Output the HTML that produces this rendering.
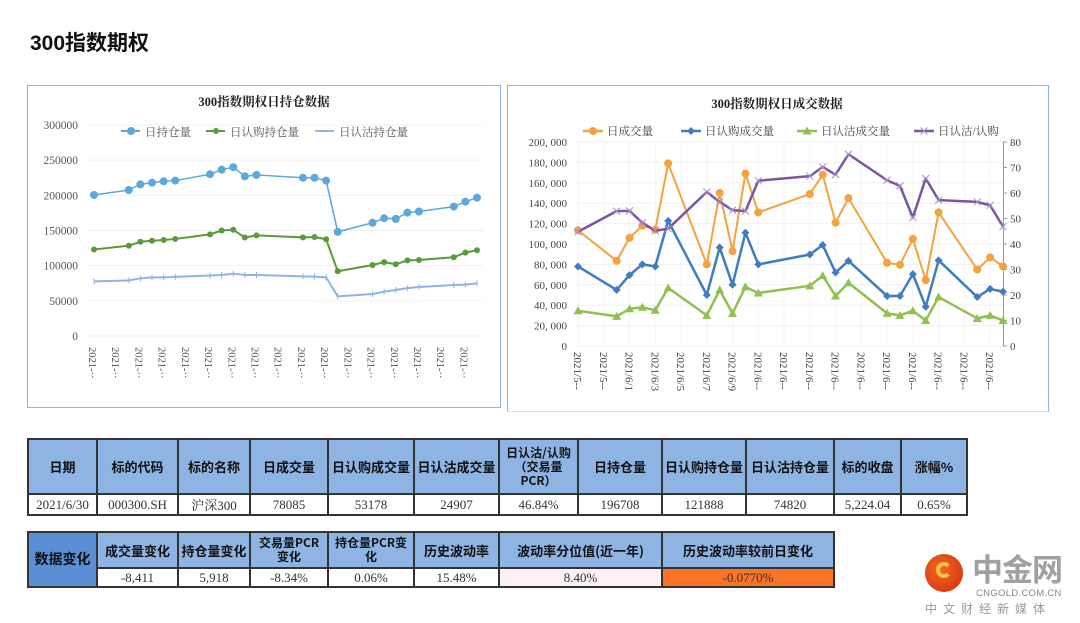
<!DOCTYPE html>
<html><head><meta charset="utf-8">
<style>
body{margin:0;width:1080px;height:623px;background:#fff;position:relative;overflow:hidden;font-family:"Liberation Sans","Noto Sans CJK SC",sans-serif}
.abs{position:absolute}
table{border-collapse:collapse;position:absolute;table-layout:fixed}
td{border:2px solid #333;text-align:center;padding:0;font-size:13px;color:#111}
td.h{background:#8db4e2;font-family:"Noto Sans CJK SC",sans-serif;font-weight:bold;font-size:13px;line-height:15px}
td.v{font-family:"Liberation Serif","Noto Serif CJK SC",serif;font-size:13px;color:#333}
svg text{font-family:"Liberation Serif","Noto Serif CJK SC",serif}
</style></head><body>
<div class="abs" style="left:30px;top:27px;font-size:21px;font-weight:bold;color:#111">300指数期权</div>

<svg class="abs" style="left:0;top:0" width="1080" height="430">
<rect x="27.5" y="85.5" width="473" height="322" fill="#fff" stroke="#8db4e2"/>
<rect x="507.5" y="85.5" width="541" height="326" fill="#fff" stroke="#8db4e2"/>
<line x1="507.5" y1="411.5" x2="1048.5" y2="411.5" stroke="#f5d6ee"/>
<text x="264" y="106" text-anchor="middle" font-size="12.5" font-weight="bold" fill="#222">300指数期权日持仓数据</text>
<text x="777" y="108" text-anchor="middle" font-size="12.5" font-weight="bold" fill="#222">300指数期权日成交数据</text>
<g id="L"></g><g id="R"></g>
</svg>

<table style="left:27px;top:438px;width:939px">
<colgroup><col style="width:69px"><col style="width:81px"><col style="width:72px"><col style="width:78px"><col style="width:86px"><col style="width:85px"><col style="width:79px"><col style="width:84px"><col style="width:84px"><col style="width:88px"><col style="width:67px"><col style="width:66px"></colgroup>
<tr style="height:55px">
<td class="h">日期</td><td class="h">标的代码</td><td class="h">标的名称</td><td class="h">日成交量</td><td class="h">日认购成交量</td><td class="h">日认沽成交量</td><td class="h" style="font-size:12px;line-height:14px">日认沽/认购<br>（交易量<br>PCR）</td><td class="h">日持仓量</td><td class="h">日认购持仓量</td><td class="h">日认沽持仓量</td><td class="h">标的收盘</td><td class="h">涨幅%</td></tr>
<tr style="height:19px">
<td class="v">2021/6/30</td><td class="v">000300.SH</td><td class="v">沪深300</td><td class="v">78085</td><td class="v">53178</td><td class="v">24907</td><td class="v">46.84%</td><td class="v">196708</td><td class="v">121888</td><td class="v">74820</td><td class="v">5,224.04</td><td class="v">0.65%</td></tr>
</table>

<table style="left:27px;top:531px;width:806px">
<colgroup><col style="width:69px"><col style="width:81px"><col style="width:72px"><col style="width:78px"><col style="width:86px"><col style="width:85px"><col style="width:163px"><col style="width:172px"></colgroup>
<tr style="height:36px">
<td class="h" rowspan="2" style="background:#5a8fd6;font-size:14px">数据变化</td>
<td class="h">成交量变化</td><td class="h">持仓量变化</td><td class="h" style="font-size:12px;line-height:14px">交易量PCR<br>变化</td><td class="h" style="font-size:12px;line-height:14px">持仓量PCR变<br>化</td><td class="h">历史波动率</td><td class="h">波动率分位值(近一年)</td><td class="h">历史波动率较前日变化</td></tr>
<tr style="height:19px">
<td class="v">-8,411</td><td class="v">5,918</td><td class="v">-8.34%</td><td class="v">0.06%</td><td class="v">15.48%</td><td class="v" style="background:#fcf0f2">8.40%</td><td class="v" style="background:#fb7327">-0.0770%</td></tr>
</table>

<div class="abs" style="left:922px;top:550px;width:150px;height:70px">
<div style="position:absolute;left:3px;top:4px;width:38px;height:38px;border-radius:50%;background:radial-gradient(circle at 40% 40%,#f06a1e,#d22a12)"></div>
<div style="position:absolute;left:14px;top:12px;width:16px;height:16px;border-radius:50%;border:4px solid #f8c24a;border-right-color:transparent;box-sizing:border-box"></div>
<div style="position:absolute;left:50px;top:0px;font-size:31px;font-weight:bold;color:#a0a0a0;font-family:'Noto Sans CJK SC',sans-serif;line-height:36px;letter-spacing:-1px">中金网</div>
<div style="position:absolute;left:54px;top:38px;font-size:9.5px;color:#888;letter-spacing:0.3px">CNGOLD.COM.CN</div>
<div style="position:absolute;left:3px;top:50px;font-size:12px;color:#999;letter-spacing:6px;font-family:'Noto Sans CJK SC',sans-serif">中文财经新媒体</div>
</div>

<script>
// ---- data ----
const dates=["2021-05-28","2021-05-31","2021-06-01","2021-06-02","2021-06-03","2021-06-04","2021-06-07","2021-06-08","2021-06-09","2021-06-10","2021-06-11","2021-06-15","2021-06-16","2021-06-17","2021-06-18","2021-06-21","2021-06-22","2021-06-23","2021-06-24","2021-06-25","2021-06-28","2021-06-29","2021-06-30"];
const oiTotal=[200500,207600,215600,218000,220000,221000,230000,236500,240000,227000,229000,225000,225000,221000,148000,161000,167500,166500,175500,177000,184000,191000,196708];
const oiCall=[123000,128400,134000,135500,136500,138000,144500,150000,151000,140000,143000,140300,140800,137500,92000,101000,105000,102000,107600,108000,112000,118600,121888];
const oiPut=[77700,79000,82000,83400,83400,84000,86000,86700,88600,86700,86700,84800,84400,83400,56400,59700,63000,65400,68000,69700,72500,73000,74820];
const volTotal=[113500,83500,106000,118000,114000,179000,80000,150000,93000,169000,131000,149000,168000,121000,145000,81600,79600,105000,64600,131000,75000,86800,78085];
const volCall=[78000,55000,69500,80000,78000,122700,50000,96600,60000,111000,80000,89700,99000,72000,83500,49000,49000,70500,38500,84000,48000,56000,53178];
const volPut=[34600,29000,36500,38000,35000,57000,30000,55000,32000,58000,52000,59000,69000,49000,62000,32000,30000,34600,25000,48000,27000,30000,24907];
const pcr=[44.8,52.9,53,48.3,45.2,46,60.4,56.5,53.3,52.9,64.8,66.6,70.2,67.2,75.2,65,62.8,50.4,65.7,57.2,56.5,55.2,46.84];
const leftTicks=[0,50000,100000,150000,200000,250000,300000];
const rightTicksL=[0,20000,40000,60000,80000,100000,120000,140000,160000,180000,200000];
const rightTicksR=[0,10,20,30,40,50,60,70,80];
const rightXLabels=["2021/5--","2021/5--","2021/6/1","2021/6/3","2021/6/5","2021/6/7","2021/6/9","2021/6--","2021/6--","2021/6--","2021/6--","2021/6--","2021/6--","2021/6--","2021/6--","2021/6--","2021/6--"];
// ---- helpers ----
const NS="http://www.w3.org/2000/svg";
function mk(p,tag,at){const e=document.createElementNS(NS,tag);for(const k in at)e.setAttribute(k,at[k]);p.appendChild(e);return e;}
const day0=Date.parse("2021-05-28");
const dayIdx=d=>(Date.parse(d)-day0)/86400000;
function xs(x0,x1){return d=>x0+(x1-x0)*dayIdx(d)/33;}
function ys(y0,y1,max){return v=>y0-(y0-y1)*v/max;}
function line(g,X,Y,vals,color,w,name){
  const p=mk(g,"polyline",{points:vals.map((v,i)=>X(dates[i])+","+Y(v)).join(" "),fill:"none",stroke:color,"stroke-width":w,"stroke-linejoin":"round"});
  
  
}
function marker(g,type,x,y,c){
  if(type==="circle")mk(g,"circle",{cx:x,cy:y,r:4,fill:c});
  else if(type==="dot")mk(g,"circle",{cx:x,cy:y,r:3,fill:c});
  else if(type==="diamond")mk(g,"path",{d:`M${x} ${y-4}L${x+4} ${y}L${x} ${y+4}L${x-4} ${y}Z`,fill:c});
  else if(type==="tri")mk(g,"path",{d:`M${x} ${y-4.5}L${x+4.5} ${y+3.5}L${x-4.5} ${y+3.5}Z`,fill:c});
  else if(type==="x")mk(g,"path",{d:`M${x-3.5} ${y-3.5}L${x+3.5} ${y+3.5}M${x+3.5} ${y-3.5}L${x-3.5} ${y+3.5}`,stroke:"#a88fc8","stroke-width":1});
  else if(type==="plus")mk(g,"path",{d:`M${x} ${y-3}V${y+3}`,stroke:c,"stroke-width":1});
}
// ---- left chart ----
(function(){
  const g=document.getElementById("L");
  const X=xs(94,477),Y=ys(336,125,300000);
  leftTicks.forEach(t=>{
    mk(g,"line",{x1:88,x2:483,y1:Y(t),y2:Y(t),stroke:"#f0f0f0"});
    const tx=mk(g,"text",{x:78,y:Y(t)+4,"text-anchor":"end","font-size":11.5,fill:"#555"});tx.textContent=t;
    
  });
  for(let i=0;i<17;i++){
    const x=94+i*(477-94)/33*2-2;
    const tx=mk(g,"text",{x:0,y:0,"font-size":10.5,fill:"#555",transform:`translate(${x-3},347) rotate(90)`});tx.textContent="2021-··";
    
  }
  line(g,X,Y,oiPut,"#8db4e2",2,"series-put-oi");
  oiPut.forEach((v,i)=>marker(g,"plus",X(dates[i]),Y(v),"#8db4e2"));
  line(g,X,Y,oiCall,"#5a9a3a",2,"series-call-oi");
  oiCall.forEach((v,i)=>marker(g,"dot",X(dates[i]),Y(v),"#5a9a3a"));
  line(g,X,Y,oiTotal,"#5aa8dc",1.5,"series-total-oi");
  oiTotal.forEach((v,i)=>marker(g,"circle",X(dates[i]),Y(v),"#5aa8dc"));
  // legend
  const lg=mk(g,"g",{});
  [[121,"#5aa8dc","circle","日持仓量"],[206,"#5a9a3a","dot","日认购持仓量"],[315,"#8db4e2","none","日认沽持仓量"]].forEach(a=>{
    mk(lg,"line",{x1:a[0],x2:a[0]+19,y1:131,y2:131,stroke:a[1],"stroke-width":2});
    if(a[2]!=="none")marker(lg,a[2],a[0]+10,131,a[1]);
    const t=mk(lg,"text",{x:a[0]+24,y:136,"font-size":11.5,fill:"#555"});t.textContent=a[3];
  });
})();
// ---- right chart ----
(function(){
  const g=document.getElementById("R");
  const X=xs(578,1003),Y=ys(346,142,200000),Y2=ys(346,142,80);
  rightTicksL.forEach(t=>{
    mk(g,"line",{x1:575,x2:1003,y1:Y(t),y2:Y(t),stroke:"#f0f0f0"});
    const tx=mk(g,"text",{x:567,y:Y(t)+4,"text-anchor":"end","font-size":11,fill:"#444"});tx.textContent=t.toLocaleString("en-US").replace(/,/g,", ");
    
  });
  rightTicksR.forEach(t=>{
    const tx=mk(g,"text",{x:1010,y:Y2(t)+4,"font-size":11,fill:"#444"});tx.textContent=t;
    
    mk(g,"line",{x1:1003,x2:1007,y1:Y2(t),y2:Y2(t),stroke:"#999"});
  });
  mk(g,"line",{x1:1003.5,x2:1003.5,y1:142,y2:346,stroke:"#999"});
  rightXLabels.forEach((l,i)=>{
    const x=578+i*(1003-578)/33*2;
    mk(g,"line",{x1:x,x2:x,y1:142,y2:346,stroke:"#f3f3f3"});
    const tx=mk(g,"text",{x:0,y:0,"font-size":11,fill:"#444",transform:`translate(${x-4},352) rotate(90)`});tx.textContent=l;
    
  });
  line(g,X,Y,volPut,"#92c050",2.5,"series-put-volume");
  volPut.forEach((v,i)=>marker(g,"tri",X(dates[i]),Y(v),"#92c050"));
  line(g,X,Y,volCall,"#3f7cc0",2.5,"series-call-volume");
  volCall.forEach((v,i)=>marker(g,"diamond",X(dates[i]),Y(v),"#3f7cc0"));
  line(g,X,Y,volTotal,"#f4a23c",2,"series-total-volume");
  volTotal.forEach((v,i)=>marker(g,"circle",X(dates[i]),Y(v),"#f4a23c"));
  line(g,X,Y2,pcr,"#7b54a3",2.5,"series-pcr");
  pcr.forEach((v,i)=>marker(g,"x",X(dates[i]),Y2(v),"#7b54a3"));
  const lg=mk(g,"g",{});
  [[583,"#f4a23c","circle","日成交量"],[681,"#3f7cc0","diamond","日认购成交量"],[797,"#92c050","tri","日认沽成交量"],[914,"#7b54a3","x","日认沽/认购"]].forEach(a=>{
    mk(lg,"line",{x1:a[0],x2:a[0]+20,y1:131,y2:131,stroke:a[1],"stroke-width":2.5});
    marker(lg,a[2],a[0]+10,131,a[1]);
    const t=mk(lg,"text",{x:a[0]+24,y:135,"font-size":11.5,fill:"#444"});t.textContent=a[3];
  });
})();
</script>
</body></html>
